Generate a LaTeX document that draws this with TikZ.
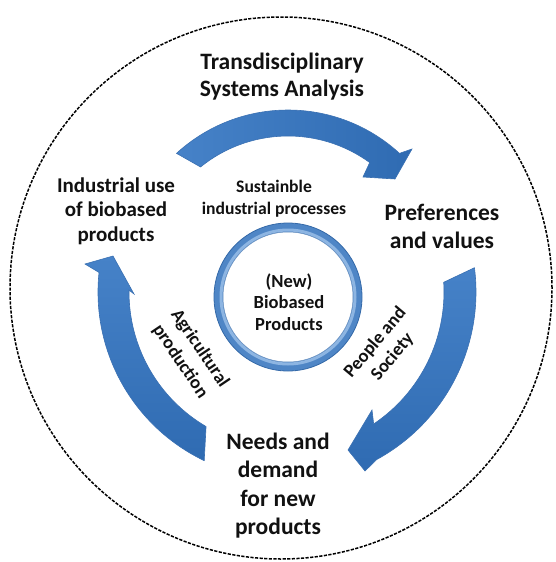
\documentclass[tikz,border=0pt]{standalone}
\usepackage{fontspec}
\setmainfont{Carlito}
\usetikzlibrary{calc}
\definecolor{adark}{HTML}{2F6BB2}
\definecolor{amid}{HTML}{4682C8}
\definecolor{alight}{HTML}{8FB8E4}
\definecolor{aedge}{HTML}{3A70B2}
\definecolor{ringc}{HTML}{4F86C6}
\definecolor{ringlight}{HTML}{8DB5E2}
\definecolor{ringdark}{HTML}{3469A8}
\definecolor{txt}{HTML}{111111}
\begin{document}
\begin{tikzpicture}[x=1pt,y=1pt,
  lbl/.style={font=\bfseries, align=center, text=txt, inner sep=0pt},
  arrowshape/.style={draw=aedge, line width=0.6pt}
]
\useasboundingbox (0,0) rectangle (555,-562);
% outer dashed circle
\draw[line width=1.5pt, dash pattern=on 3.2pt off 1.4pt] (281,-288) circle[radius=271];

\coordinate (T) at (288,-275);
\coordinate (C) at (285,-292);

% top arrow
\path[arrowshape, left color=amid, middle color=alight, right color=adark]
  ($(T)+(132.5:165)$) arc[start angle=132.5, end angle=47.5, radius=165]
  -- (412,-149) -- (395,-179) -- (363,-177)
  -- ($(T)+(54:139)$) arc[start angle=54, end angle=129, radius=139]
  -- cycle;

% right arrow
\path[arrowshape, top color=amid, middle color=alight!85!amid, bottom color=adark]
  ($(C)+(7.3:191)$) arc[start angle=7.3, end angle=-61.3, radius=191]
  -- (365,-471) -- (348,-450) -- (372,-410)
  -- ($(C)+(-56.1:159)$) arc[start angle=-56.1, end angle=3.5, radius=159]
  -- cycle;

% left arrow
\path[arrowshape, top color=amid, middle color=alight!85!amid, bottom color=adark]
  ($(C)+(244.4:187)$) arc[start angle=244.4, end angle=174, radius=187]
  -- (85,-264) -- (113,-256) -- (134,-294)
  -- ($(C)+(179.3:156)$) arc[start angle=179.3, end angle=239.6, radius=156]
  -- cycle;

% inner ring
\draw[line width=9pt, ringc] (288,-297) circle[radius=69.5];
\draw[line width=3pt, ringlight] (288,-297) circle[radius=67];
\draw[line width=0.8pt, ringdark] (288,-297) circle[radius=74];
\draw[line width=0.5pt, ringdark!70] (288,-297) circle[radius=65];

% labels
\node[lbl, font=\bfseries\fontsize{23.5}{27}\selectfont] (tsa) at (282,-76.5) {Transdisciplinary\\Systems Analysis};
\node[lbl, font=\bfseries\fontsize{21}{24.5}\selectfont] (ind) at (116,-211) {Industrial use\\of biobased\\products};
\node[lbl, font=\bfseries\fontsize{17.6}{22}\selectfont] (sip) at (274,-199) {Sustainble\\industrial processes};
\node[lbl, font=\bfseries\fontsize{23.5}{28}\selectfont] (pref) at (442,-226) {Preferences\\and values};
\node[lbl, font=\bfseries\fontsize{18.5}{21.5}\selectfont] (core) at (289,-302) {(New)\\Biobased\\Products};
\node[lbl, font=\bfseries\fontsize{23.5}{28.3}\selectfont] (need) at (278,-485.5) {Needs and\\demand\\for new\\products};
\node[lbl, font=\bfseries\fontsize{18.5}{23.5}\selectfont, rotate=-56] (agri) at (190,-355) {Agricultural\\production};
\node[lbl, font=\bfseries\fontsize{18.5}{22.5}\selectfont, rotate=50] (peop) at (384,-350) {People and\\Society};
\end{tikzpicture}
\end{document}
